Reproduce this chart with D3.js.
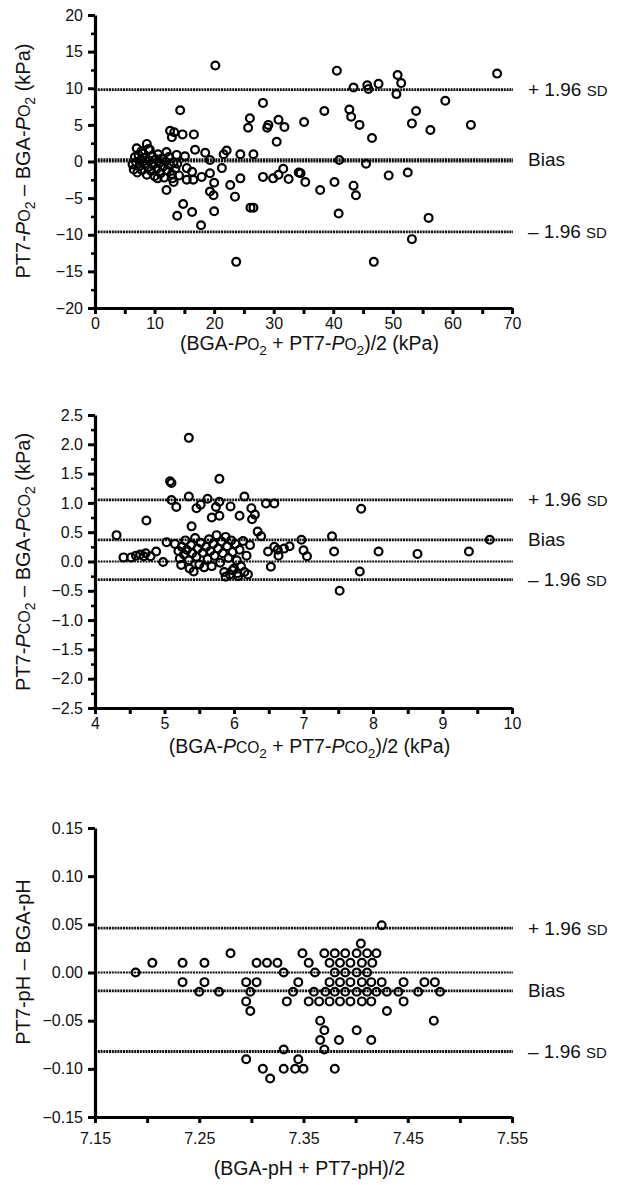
<!DOCTYPE html>
<html>
<head>
<meta charset="utf-8">
<script src="https://cdn.jsdelivr.net/npm/d3@7"></script>
<style>
  body { margin: 0; background: #fff; }
  svg { display: block; }
  text { font-family: "Liberation Sans", Arial, Helvetica, sans-serif; fill: #111; }
</style>
</head>
<body>
<svg id="chart" width="618" height="1185"></svg>
<script>
// ---- panel A: PO2 (mean, difference) in kPa
const po2Points = [
  [20.2,13.1],[14.3,7.0],[12.6,4.2],[12.9,3.3],[13.3,4.0],[14.7,3.7],[16.6,3.7],[25.7,4.6],[26.0,5.9],
  [28.2,8.0],[28.9,4.6],[29.1,5.0],[30.8,5.7],[31.8,4.7],[30.5,2.7],[35.1,5.4],[38.5,6.9],[40.6,12.4],
  [67.5,12.0],[43.4,10.1],[45.7,10.4],[45.9,9.9],[47.6,10.6],[50.8,11.8],[51.4,10.7],[50.6,9.2],[58.8,8.3],
  [42.7,7.1],[43.0,6.1],[44.4,5.0],[46.5,3.2],[53.9,6.9],[53.2,5.2],[56.3,4.3],[63.1,5.0],
  [7.0,1.8],[8.7,2.4],[9.2,1.6],[12.0,1.3],[13.7,0.9],[15.1,0.7],[16.8,1.6],[18.5,1.2],[19.3,0.2],
  [21.6,1.0],[22.1,1.5],[24.4,1.0],[26.6,1.0],[41.0,0.2],
  [15.4,-0.9],[16.3,-1.4],[17.9,-2.1],[19.3,-1.6],[21.3,-0.9],[13.0,-2.3],[13.2,-2.8],[15.4,-2.5],[16.5,-2.5],
  [12.0,-3.9],[20.0,-2.9],[19.3,-4.1],[19.9,-4.6],[22.7,-3.2],[23.5,-4.8],[24.4,-2.3],[28.2,-2.1],[29.9,-2.3],
  [30.8,-1.8],[31.6,-1.0],[32.5,-2.4],[34.2,-1.5],[35.3,-2.8],[14.8,-5.8],[13.8,-7.4],[16.3,-6.9],[17.8,-8.7],
  [20.0,-6.8],[26.1,-6.3],[26.6,-6.3],[23.7,-13.7],[45.5,-0.3],[34.5,-1.6],[37.8,-3.9],[40.2,-2.8],[43.4,-3.3],
  [43.8,-4.6],[49.3,-1.9],[52.5,-1.5],[40.9,-7.1],[56.0,-7.7],[53.2,-10.6],[46.8,-13.7],
  [6.3,-0.4],[6.5,-1.1],[6.7,0.6],[6.9,-0.1],[7.1,-1.5],[7.3,0.9],[7.5,-0.6],[7.7,0.2],[7.9,-1.2],[8.1,1.1],
  [8.3,-0.3],[8.5,0.5],[8.7,-1.8],[8.9,-0.8],[9.1,0.1],[9.4,-1.3],[9.6,0.7],[9.8,-0.4],[10.0,-2.0],[10.2,0.3],
  [10.4,-1.0],[10.6,1.0],[10.8,-0.2],[11.0,-1.6],[11.2,0.4],[11.4,-0.7],[11.6,-2.2],[11.8,0.0],[12.1,-1.2],
  [12.4,0.6],[12.6,-0.5],[12.9,-1.7],[13.2,-0.1],[13.5,-1.0],[13.8,-0.3],[14.1,-1.9],[10.5,-2.3],[9.0,1.7],[7.8,1.4]
];
const po2Lines = [9.8, 0.25, 0, -9.6];
const po2XTicks = [0, 10, 20, 30, 40, 50, 60, 70];
const po2YTicks = [20, 15, 10, 5, 0, -5, -10, -15, -20];

// ---- panel B: PCO2
const pco2Points = [
  [5.35,2.11],[5.08,1.37],[5.10,1.34],[5.79,1.41],[5.35,1.11],[5.10,1.05],[5.17,0.93],[5.46,0.91],[5.52,0.97],
  [5.62,1.07],[5.79,1.02],[5.74,0.93],[5.95,0.94],[6.15,1.11],[6.08,0.78],[6.25,0.91],[6.30,0.80],[6.26,0.72],
  [6.46,0.99],[6.58,0.99],[5.68,0.75],[5.79,0.78],[4.74,0.70],[5.39,0.60],[4.31,0.45],[7.83,0.90],
  [5.03,0.33],[4.41,0.07],[4.52,0.07],[4.59,0.10],[4.65,0.12],[4.73,0.14],[4.80,0.09],[4.88,0.17],[4.98,-0.01],[4.70,0.09],
  [6.34,0.51],[6.39,0.43],[6.53,-0.09],[6.49,0.17],[6.63,0.20],[6.80,0.26],[6.58,0.25],[6.72,0.22],[6.97,0.37],
  [7.00,0.19],[7.05,0.09],[6.64,0.10],[7.41,0.43],[7.44,0.17],[8.08,0.17],[8.64,0.13],[9.38,0.17],[9.68,0.37],
  [7.81,-0.17],[7.52,-0.50],
  [5.15,0.30],[5.20,0.18],[5.22,0.05],[5.25,0.25],[5.24,-0.06],[5.28,0.12],[5.30,0.36],[5.32,0.20],[5.35,0.02],
  [5.36,-0.12],[5.38,0.28],[5.40,0.14],[5.42,-0.17],[5.44,0.40],[5.46,0.08],[5.48,0.22],[5.50,-0.05],[5.52,0.32],
  [5.55,0.15],[5.57,-0.10],[5.60,0.25],[5.62,0.04],[5.64,0.38],[5.66,0.18],[5.68,-0.08],[5.70,0.30],[5.72,0.10],
  [5.75,0.45],[5.77,0.22],[5.80,-0.02],[5.82,0.34],[5.84,0.14],[5.86,-0.18],[5.88,0.42],[5.90,0.26],[5.92,0.06],
  [5.94,-0.22],[5.96,0.36],[5.98,0.16],[6.00,-0.12],[6.02,0.30],[6.04,0.02],[6.06,-0.25],[6.08,0.20],[6.10,-0.08],
  [6.13,0.35],[6.15,-0.18],[6.18,0.10],[6.20,-0.22],[6.23,0.28],[5.88,-0.26],[5.98,-0.15],[6.05,-0.20]
];
const pco2Lines = [1.05, 0.37, 0, -0.31];
const pco2XTicks = [4, 5, 6, 7, 8, 9, 10];
const pco2YTicks = [2.5, 2.0, 1.5, 1.0, 0.5, 0.0, -0.5, -1.0, -1.5, -2.0, -2.5];

// ---- panel C: pH
const phPoints = [
  [7.189,0.00],[7.205,0.01],[7.234,0.01],[7.234,-0.01],[7.255,0.01],[7.255,-0.01],[7.250,-0.02],[7.269,-0.02],
  [7.280,0.02],[7.295,-0.01],[7.305,-0.01],[7.305,0.01],[7.315,0.01],[7.325,0.01],[7.331,0.00],[7.299,-0.02],
  [7.340,-0.02],[7.345,-0.01],[7.349,0.02],[7.355,0.01],[7.361,0.00],[7.360,-0.02],
  [7.370,0.02],[7.380,0.02],[7.390,0.02],[7.401,0.02],[7.411,0.02],[7.420,0.02],[7.405,0.03],
  [7.375,0.01],[7.385,0.01],[7.395,0.01],[7.406,0.01],[7.416,0.01],
  [7.380,0.00],[7.390,0.00],[7.401,0.00],[7.411,0.00],
  [7.375,-0.01],[7.385,-0.01],[7.395,-0.01],[7.406,-0.01],[7.415,-0.01],[7.425,-0.01],[7.446,-0.01],[7.466,-0.01],[7.476,-0.01],
  [7.371,-0.02],[7.380,-0.02],[7.390,-0.02],[7.401,-0.02],[7.411,-0.02],[7.420,-0.02],[7.430,-0.02],[7.441,-0.02],[7.460,-0.02],[7.481,-0.02],
  [7.295,-0.03],[7.334,-0.03],[7.355,-0.03],[7.365,-0.03],[7.375,-0.03],[7.385,-0.03],[7.395,-0.03],[7.406,-0.03],[7.415,-0.03],[7.446,-0.03],
  [7.299,-0.04],[7.430,-0.04],[7.366,-0.05],[7.475,-0.05],[7.370,-0.06],[7.401,-0.06],
  [7.366,-0.07],[7.384,-0.07],[7.415,-0.07],[7.331,-0.08],[7.370,-0.08],[7.295,-0.09],[7.345,-0.09],
  [7.311,-0.10],[7.331,-0.10],[7.342,-0.10],[7.350,-0.10],[7.380,-0.10],[7.318,-0.11],[7.425,0.049]
];
const phLines = [0.046, 0, -0.019, -0.082];
const phXTicks = [7.15, 7.25, 7.35, 7.45, 7.55];
const phYTicks = [0.15, 0.10, 0.05, 0.00, -0.05, -0.10, -0.15];

const svg = d3.select("#chart");
const left = 95, right = 512;

// rich label pieces: [text, style] ; style: "i" italic, "sc" small cap, "sub" subscript
function richText(sel, parts, size) {
  let shifted = false;
  parts.forEach(([t, s]) => {
    const ts = sel.append("tspan").text(t);
    if (s === "i") ts.attr("font-style", "italic");
    if (s === "sc") ts.attr("font-size", size * 0.8);
    if (s === "sub") { ts.attr("font-size", size * 0.7).attr("dy", 5); shifted = true; }
    else if (shifted) { ts.attr("dy", -5); shifted = false; }
  });
}

function drawPanel(p) {
  const x = d3.scaleLinear().domain(p.xDomain).range([left, right]);
  const y = d3.scaleLinear().domain(p.yDomain).range([p.bottom, p.top]);
  const g = svg.append("g");

  // reference lines
  g.selectAll("line.ref").data(p.lines).join("line")
    .attr("class", "ref")
    .attr("x1", left).attr("x2", right + 1)
    .attr("y1", d => y(d)).attr("y2", d => y(d))
    .attr("stroke", "#111")
    .attr("stroke-width", (d, i) => i === p.zeroIdx ? 1.8 : 2.8)
    .attr("stroke-dasharray", "2,0.8");

  // points
  g.selectAll("circle").data(p.points).join("circle")
    .attr("cx", d => x(d[0])).attr("cy", d => y(d[1]))
    .attr("r", 3.9)
    .attr("fill", "none").attr("stroke", "#000").attr("stroke-width", 2.2);

  // minor ticks
  g.append("g").attr("transform", `translate(${left},0)`)
    .call(d3.axisLeft(y).tickValues(p.yMinor).tickSize(4).tickFormat(""))
    .call(a => a.select(".domain").remove())
    .selectAll("line").attr("stroke-width", 2.5);
  g.append("g").attr("transform", `translate(0,${p.bottom})`)
    .call(d3.axisBottom(x).tickValues(p.xMinor).tickSize(6).tickFormat(""))
    .call(a => a.select(".domain").remove())
    .selectAll("line").attr("stroke-width", 3);

  // axes
  const ya = g.append("g").attr("transform", `translate(${left},0)`)
    .call(d3.axisLeft(y).tickValues(p.yTicks).tickFormat(d3.format(p.yFmt)).tickSize(7).tickSizeOuter(0).tickPadding(5));
  const xa = g.append("g").attr("transform", `translate(0,${p.bottom})`)
    .call(d3.axisBottom(x).tickValues(p.xTicks).tickFormat(d3.format(p.xFmt)).tickSize(6).tickSizeOuter(0).tickPadding(p.xPad));
  [ya, xa].forEach(a => {
    a.attr("font-size", 16).attr("font-family", null);
    a.select(".domain").attr("stroke-width", 3.2);
    a.selectAll(".tick line").attr("stroke-width", 3);
  });

  // side labels
  p.sideLabels.forEach(([val, main, sc]) => {
    const t = g.append("text").attr("x", 528).attr("y", y(val) + 6.5).attr("font-size", 19);
    t.append("tspan").text(main);
    if (sc) t.append("tspan").text(sc).attr("font-size", 15);
  });

  // axis titles
  const xt = g.append("text").attr("x", (left + right) / 2 + 6).attr("y", p.bottom + p.xTitleOff)
    .attr("text-anchor", "middle").attr("font-size", 19.5);
  richText(xt, p.xTitle, 19.5);
  const yt = g.append("text").attr("transform", `translate(30,${p.yTitleY}) rotate(-90)`)
    .attr("text-anchor", "middle").attr("font-size", 20);
  richText(yt, p.yTitle, 20);
}

drawPanel({
  points: po2Points, lines: po2Lines, zeroIdx: 2,
  xDomain: [0, 70], yDomain: [-20, 20], top: 15, bottom: 308,
  xTicks: po2XTicks, xMinor: d3.range(5, 70, 10), yTicks: po2YTicks, yMinor: d3.range(-17.5, 20, 5),
  xFmt: "d", yFmt: "d", xPad: 4, xTitleOff: 42,
  sideLabels: [[9.8, "+ 1.96 ", "SD"], [0.25, "Bias", null], [-9.6, "– 1.96 ", "SD"]],
  xTitle: [["(BGA-", ""], ["P", "i"], ["O", "sc"], ["2", "sub"], [" + PT7-", ""], ["P", "i"], ["O", "sc"], ["2", "sub"], [")/2 (kPa)", ""]],
  yTitle: [["PT7-", ""], ["P", "i"], ["O", "sc"], ["2", "sub"], [" – BGA-", ""], ["P", "i"], ["O", "sc"], ["2", "sub"], [" (kPa)", ""]],
  yTitleY: 161
});

drawPanel({
  points: pco2Points, lines: pco2Lines, zeroIdx: 2,
  xDomain: [4, 10], yDomain: [-2.5, 2.5], top: 415, bottom: 708,
  xTicks: pco2XTicks, xMinor: d3.range(4.5, 10, 1), yTicks: pco2YTicks, yMinor: d3.range(-2.25, 2.5, 0.5),
  xFmt: "d", yFmt: ".1f", xPad: 4, xTitleOff: 45,
  sideLabels: [[1.05, "+ 1.96 ", "SD"], [0.37, "Bias", null], [-0.31, "– 1.96 ", "SD"]],
  xTitle: [["(BGA-", ""], ["P", "i"], ["CO", "sc"], ["2", "sub"], [" + PT7-", ""], ["P", "i"], ["CO", "sc"], ["2", "sub"], [")/2 (kPa)", ""]],
  yTitle: [["PT7-", ""], ["P", "i"], ["CO", "sc"], ["2", "sub"], [" – BGA-", ""], ["P", "i"], ["CO", "sc"], ["2", "sub"], [" (kPa)", ""]],
  yTitleY: 562
});

drawPanel({
  points: phPoints, lines: phLines, zeroIdx: 1,
  xDomain: [7.15, 7.55], yDomain: [-0.15, 0.15], top: 828, bottom: 1117,
  xTicks: phXTicks, xMinor: [7.2, 7.3, 7.4, 7.5], yTicks: phYTicks, yMinor: [],
  xFmt: ".2f", yFmt: ".2f", xPad: 10, xTitleOff: 58,
  sideLabels: [[0.046, "+ 1.96 ", "SD"], [-0.019, "Bias", null], [-0.082, "– 1.96 ", "SD"]],
  xTitle: [["(BGA-pH + PT7-pH)/2", ""]],
  yTitle: [["PT7-pH – BGA-pH", ""]],
  yTitleY: 962
});
</script>
</body>
</html>
